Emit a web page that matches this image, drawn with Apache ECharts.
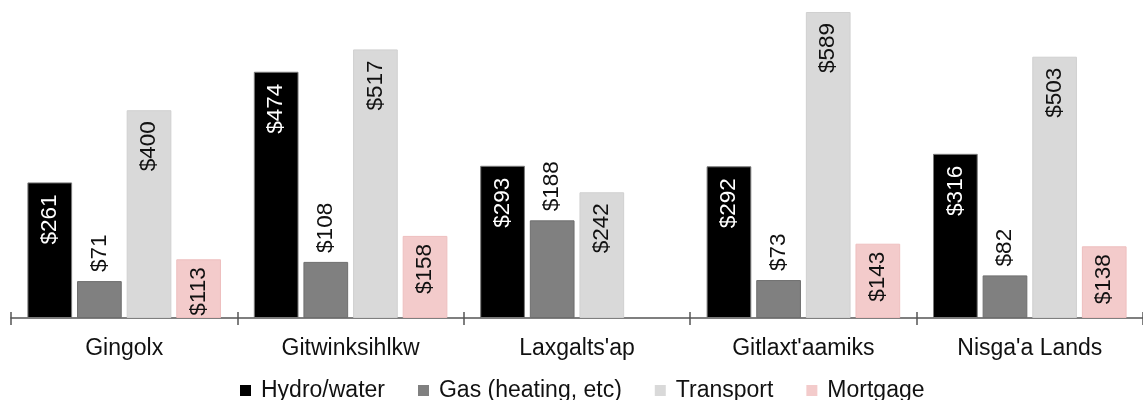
<!DOCTYPE html>
<html>
<head>
<meta charset="utf-8">
<title>Monthly household costs by community</title>
<script src="https://cdn.jsdelivr.net/npm/echarts@6/dist/echarts.min.js"></script>
<style>
  html, body { margin: 0; padding: 0; background: #ffffff; }
  #chart { width: 1143px; height: 400px; }
</style>
</head>
<body>
<div id="chart"></div>
<script>
// Communities along the category axis
const communities = ["Gingolx", "Gitwinksihlkw", "Laxgalts'ap", "Gitlaxt'aamiks", "Nisga'a Lands"];

// Monthly cost per household, dollars
const hydroWater = [261, 474, 293, 292, 316];
const gasHeating = [71, 108, 188, 73, 82];
const transport  = [400, 517, 242, 589, 503];
const mortgage   = [113, 158, null, 143, 138];

const seriesNames = ["Hydro/water", "Gas (heating, etc)", "Transport", "Mortgage"];

const FONT = "'Liberation Sans', Arial, Helvetica, sans-serif";
const dollar = p => '$' + p.value;

function rotatedLabel(position, align, color, distance) {
  return {
    show: true,
    position: position,
    rotate: 90,
    align: align,
    verticalAlign: 'middle',
    distance: distance,
    color: color,
    fontFamily: FONT,
    fontSize: 22.5,
    formatter: dollar
  };
}

const chart = echarts.init(document.getElementById('chart'), null, { renderer: 'canvas' });

chart.setOption({
  animation: false,
  backgroundColor: '#ffffff',
  textStyle: { fontFamily: FONT },
  grid: { left: 11, width: 1140, top: 6.3, bottom: 82, containLabel: false },
  legend: {
    left: 235,
    top: 374,
    icon: 'rect',
    itemWidth: 11,
    itemHeight: 11,
    itemGap: 33,
    itemStyle: { borderWidth: 0 },
    textStyle: { fontFamily: FONT, fontSize: 23, color: '#111111', padding: [0, 0, 0, 5] },
    data: seriesNames
  },
  xAxis: [
    {
      type: 'category',
      data: communities,
      axisLine: { show: true, lineStyle: { color: '#555555', width: 1.5 } },
      axisTick: { show: true, length: 7, lineStyle: { color: '#555555', width: 1.5 } },
      axisLabel: { margin: 19, fontFamily: FONT, fontSize: 23, color: '#111111' }
    },
    {
      // upper half of the boundary ticks, crossing the baseline
      type: 'category',
      data: communities,
      position: 'bottom',
      axisLine: { show: false },
      axisTick: { show: true, inside: true, length: 6, lineStyle: { color: '#555555', width: 1.5 } },
      axisLabel: { show: false }
    }
  ],
  yAxis: { type: 'value', min: 0, max: 600, show: false, splitLine: { show: false } },
  series: [
    {
      name: seriesNames[0], type: 'bar', data: hydroWater,
      barCategoryGap: '14.5%', barGap: '11%',
      itemStyle: { color: '#000000', borderColor: '#7a7a7a', borderWidth: 1 },
      label: rotatedLabel('insideTop', 'right', '#ffffff', 12)
    },
    {
      name: seriesNames[1], type: 'bar', data: gasHeating,
      barCategoryGap: '14.5%', barGap: '11%',
      itemStyle: { color: '#808080', borderColor: '#6e6e6e', borderWidth: 1 },
      label: rotatedLabel('top', 'left', '#111111', 9)
    },
    {
      name: seriesNames[2], type: 'bar', data: transport,
      barCategoryGap: '14.5%', barGap: '11%',
      itemStyle: { color: '#d9d9d9', borderColor: '#d0d0d0', borderWidth: 1 },
      label: rotatedLabel('insideTop', 'right', '#111111', 11)
    },
    {
      name: seriesNames[3], type: 'bar', data: mortgage,
      barCategoryGap: '14.5%', barGap: '11%',
      itemStyle: { color: '#f3cbcb', borderColor: '#eebfbf', borderWidth: 1 },
      label: rotatedLabel('insideTop', 'right', '#111111', 8)
    }
  ]
});
</script>
</body>
</html>
